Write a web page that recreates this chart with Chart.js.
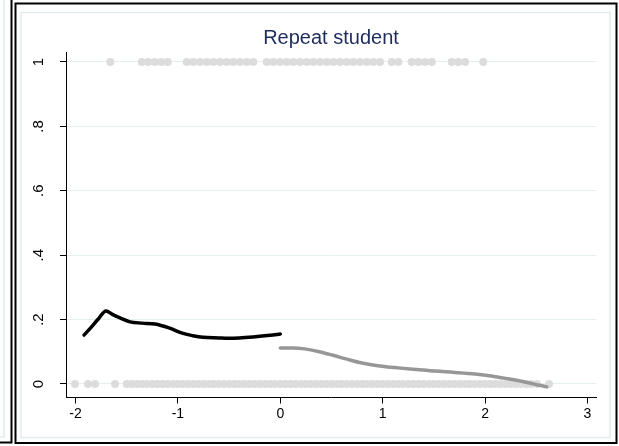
<!DOCTYPE html>
<html>
<head>
<meta charset="utf-8">
<style>
  html, body { margin: 0; padding: 0; background: #ffffff; }
  #wrap { width: 619px; height: 446px; position: relative; }
</style>
<script src="https://cdn.jsdelivr.net/npm/chart.js@4/dist/chart.umd.min.js"></script>
</head>
<body>
<div id="wrap"><canvas id="c" width="619" height="446"></canvas></div>
<script>
// ---- data ----
const titleText = 'Repeat student';
const xTicks = [-2, -1, 0, 1, 2, 3];
const yTicks = [0, 0.2, 0.4, 0.6, 0.8, 1];
const yTickLabels = ['0', '.2', '.4', '.6', '.8', '1'];

// standardized score of students who repeated (outcome = 1)
const repeatX = [
  -1.660,
  -1.353, -1.289, -1.226, -1.162, -1.100,
  -0.914, -0.850, -0.784, -0.719, -0.654, -0.589, -0.524, -0.459, -0.393, -0.328, -0.264,
  -0.133, -0.068, -0.003, 0.062, 0.127, 0.192, 0.258, 0.323, 0.388, 0.453, 0.518, 0.583,
  0.648, 0.713, 0.779, 0.844, 0.909, 0.974,
  1.088, 1.153,
  1.283, 1.348, 1.413, 1.479,
  1.674, 1.738, 1.804,
  1.982
];

// standardized score of students who did not repeat (outcome = 0)
const noRepeatX = [
  -2.005, -1.878, -1.810, -1.614,
  -1.50, -1.45, -1.40, -1.35, -1.30, -1.25, -1.20, -1.15, -1.10, -1.05,
  -1.00, -0.95, -0.90, -0.85, -0.80, -0.75, -0.70, -0.65, -0.60, -0.55,
  -0.50, -0.45, -0.40, -0.35, -0.30, -0.25, -0.20, -0.15, -0.10, -0.05,
  0.00, 0.05, 0.10, 0.15, 0.20, 0.25, 0.30, 0.35, 0.40, 0.45,
  0.50, 0.55, 0.60, 0.65, 0.70, 0.75, 0.80, 0.85, 0.90, 0.95,
  1.00, 1.05, 1.10, 1.15, 1.20, 1.25, 1.30, 1.35, 1.40, 1.45,
  1.50, 1.55, 1.60, 1.65, 1.70, 1.75, 1.80, 1.85, 1.90, 1.95,
  2.00, 2.05, 2.10, 2.15, 2.20, 2.25, 2.30, 2.35, 2.40, 2.45,
  2.507, 2.624
];

// smoothed share of repeaters, below the cutoff (score < 0)
const fitLowX = [-1.917, -1.85, -1.78, -1.702, -1.64, -1.565, -1.468, -1.35, -1.224, -1.087,
                 -0.950, -0.855, -0.755, -0.60, -0.511, -0.40, -0.267, -0.10, 0.0];
const fitLowY = [0.152, 0.175, 0.201, 0.227, 0.216, 0.205, 0.193, 0.189, 0.186, 0.174,
                 0.157, 0.150, 0.145, 0.143, 0.142, 0.143, 0.146, 0.151, 0.155];

// smoothed share of repeaters, above the cutoff (score >= 0)
const fitHighX = [0.0, 0.12, 0.241, 0.37, 0.505, 0.65, 0.798, 0.97, 1.149, 1.33,
                  1.511, 1.70, 1.901, 2.06, 2.224, 2.42, 2.603];
const fitHighY = [0.112, 0.112, 0.109, 0.101, 0.090, 0.077, 0.065, 0.056, 0.050, 0.045,
                  0.040, 0.036, 0.031, 0.025, 0.016, 0.004, -0.009];

// ---- helpers ----
const toPoints = (xs, ys) => xs.map((x, i) => ({ x: x, y: ys[i] }));
const atLevel = (xs, level) => xs.map(x => ({ x: x, y: level }));

const FONT = "'Liberation Sans', Arial, Helvetica, sans-serif";
const GRID = '#e5eef0';

// panel frames around the plot (graph region borders)
const panelFrame = {
  id: 'panelFrame',
  beforeDraw(chart) {
    const ctx = chart.ctx;
    ctx.save();
    ctx.fillStyle = '#ffffff';
    ctx.fillRect(0, 0, chart.width, chart.height);

    // neighbouring panel edge on the far left
    ctx.strokeStyle = '#e3ebee';
    ctx.lineWidth = 1.5;
    ctx.beginPath();
    ctx.moveTo(4, 0); ctx.lineTo(4, 437); ctx.lineTo(0, 437);
    ctx.stroke();
    ctx.strokeStyle = '#000000';
    ctx.lineWidth = 2;
    ctx.beginPath();
    ctx.moveTo(11.5, 0); ctx.lineTo(11.5, 442.5); ctx.lineTo(0, 442.5);
    ctx.stroke();

    // this panel
    ctx.strokeStyle = '#000000';
    ctx.lineWidth = 2;
    ctx.strokeRect(15.5, 3.5, 601, 439.5);
    ctx.strokeStyle = '#e3ebee';
    ctx.lineWidth = 1.5;
    ctx.strokeRect(21, 12.5, 589, 425);
    ctx.restore();
  }
};

new Chart(document.getElementById('c'), {
  data: {
    datasets: [
      {
        type: 'line',
        data: toPoints(fitLowX, fitLowY),
        borderColor: '#000000',
        borderWidth: 3.5,
        pointRadius: 0,
        cubicInterpolationMode: 'monotone',
        borderJoinStyle: 'round',
        borderCapStyle: 'round',
        fill: false,
        order: 0
      },
      {
        type: 'line',
        data: toPoints(fitHighX, fitHighY),
        borderColor: '#979797',
        borderWidth: 3.5,
        pointRadius: 0,
        cubicInterpolationMode: 'monotone',
        borderJoinStyle: 'round',
        borderCapStyle: 'round',
        fill: false,
        order: 0
      },
      {
        type: 'scatter',
        data: atLevel(repeatX, 1),
        backgroundColor: '#dcdcdc',
        borderWidth: 0,
        pointRadius: 4,
        order: 1
      },
      {
        type: 'scatter',
        data: atLevel(noRepeatX, 0),
        backgroundColor: '#dcdcdc',
        borderWidth: 0,
        pointRadius: 4,
        order: 1
      }
    ]
  },
  options: {
    responsive: false,
    devicePixelRatio: 1,
    animation: false,
    events: [],
    layout: { padding: { left: 20, right: 23, top: 20, bottom: 20 } },
    plugins: {
      legend: { display: false },
      tooltip: { enabled: false },
      title: {
        display: true,
        text: titleText,
        fullSize: false,
        color: '#1d2c5b',
        font: { family: FONT, size: 20, weight: 'normal', lineHeight: 1.2 },
        padding: { top: 6, bottom: 2 }
      }
    },
    scales: {
      x: {
        type: 'linear',
        min: -2.093,
        max: 3.083,
        afterBuildTicks: (s) => { s.ticks = xTicks.map(v => ({ value: v })); },
        afterFit: (s) => { s.height = 446 - 20 - 397.5; },
        ticks: {
          color: '#000000',
          font: { family: FONT, size: 14 },
          padding: 2,
          maxRotation: 0,
          callback: (v) => String(v)
        },
        grid: { drawOnChartArea: false, tickLength: 6, tickColor: '#000000', tickWidth: 1 },
        border: { color: '#000000', width: 1 }
      },
      y: {
        type: 'linear',
        min: -0.042,
        max: 1.031,
        afterBuildTicks: (s) => { s.ticks = yTicks.map(v => ({ value: v })); },
        afterFit: (s) => { s.width = 66 - 20; },
        ticks: {
          color: '#000000',
          font: { family: FONT, size: 15 },
          padding: 15,
          minRotation: 90,
          maxRotation: 90,
          crossAlign: 'center',
          callback: (v, i) => yTickLabels[i]
        },
        grid: { color: GRID, lineWidth: 1, tickLength: 6, tickColor: '#000000', tickWidth: 1 },
        border: { color: '#000000', width: 1 }
      }
    }
  },
  plugins: [panelFrame]
});
</script>
</body>
</html>
